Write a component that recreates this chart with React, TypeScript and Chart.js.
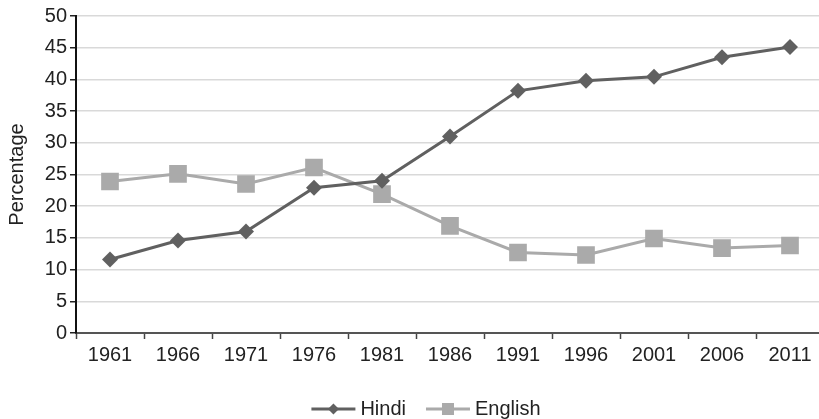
import { useEffect, useRef } from 'react';
import { Chart, registerables } from 'chart.js';

Chart.register(...registerables);

const years = ['1961', '1966', '1971', '1976', '1981', '1986', '1991', '1996', '2001', '2006', '2011'];
const hindiValues = [11.6, 14.6, 16.0, 22.9, 24.0, 31.0, 38.2, 39.8, 40.4, 43.5, 45.1];
const englishValues = [23.9, 25.1, 23.5, 26.1, 21.9, 16.9, 12.7, 12.3, 14.9, 13.4, 13.8];
const yAxisTitle = 'Percentage';

const FONT = '"Liberation Sans", Arial, Helvetica, sans-serif';
const HINDI_COLOR = '#606060';
const ENGLISH_COLOR = '#aaaaaa';
const TEXT_COLOR = '#222222';

const lineLegend = {
  id: 'lineLegend',
  afterDraw(chart: any) {
    const ctx = chart.ctx as CanvasRenderingContext2D;
    ctx.save();
    ctx.font = `20px ${FONT}`;
    const lineLen = 44;
    const gap = 5;
    const itemGap = 20;
    const items = chart.data.datasets.map((ds: any) => ({
      ds,
      w: lineLen + gap + ctx.measureText(ds.label).width,
    }));
    const total = items.reduce((a: number, b: any) => a + b.w, 0) + itemGap * (items.length - 1);
    let x = 426 - total / 2;
    const y = 409;
    items.forEach(({ ds, w }: any) => {
      ctx.strokeStyle = ds.borderColor;
      ctx.lineWidth = 3;
      ctx.beginPath();
      ctx.moveTo(x, y);
      ctx.lineTo(x + lineLen, y);
      ctx.stroke();
      ctx.fillStyle = ds.pointBackgroundColor;
      const cx = x + lineLen / 2;
      if (ds.pointStyle === 'rectRot') {
        const r = 5.5;
        ctx.beginPath();
        ctx.moveTo(cx, y - r);
        ctx.lineTo(cx + r, y);
        ctx.lineTo(cx, y + r);
        ctx.lineTo(cx - r, y);
        ctx.closePath();
        ctx.fill();
      } else {
        const s = 6;
        ctx.fillRect(cx - s, y - s, 2 * s, 2 * s);
      }
      ctx.fillStyle = TEXT_COLOR;
      ctx.textBaseline = 'middle';
      ctx.textAlign = 'left';
      ctx.fillText(ds.label, x + lineLen + gap, y);
      x += w + itemGap;
    });
    ctx.restore();
  },
};

export default function App() {
  const canvasRef = useRef<HTMLCanvasElement | null>(null);

  useEffect(() => {
    const canvas = canvasRef.current;
    if (!canvas) return;
    const chart = new Chart(canvas, {
      type: 'line',
      data: {
        labels: years,
        datasets: [
          {
            label: 'Hindi',
            data: hindiValues,
            borderColor: HINDI_COLOR,
            backgroundColor: HINDI_COLOR,
            borderWidth: 3,
            pointStyle: 'rectRot',
            pointRadius: 8,
            pointBackgroundColor: HINDI_COLOR,
            pointBorderWidth: 0,
            tension: 0,
          },
          {
            label: 'English',
            data: englishValues,
            borderColor: ENGLISH_COLOR,
            backgroundColor: ENGLISH_COLOR,
            borderWidth: 3,
            pointStyle: 'rect',
            pointRadius: 12.5,
            pointBackgroundColor: ENGLISH_COLOR,
            pointBorderWidth: 0,
            tension: 0,
          },
        ],
      },
      options: {
        responsive: false,
        animation: false,
        devicePixelRatio: 1,
        layout: { padding: { top: 16, right: 16, bottom: 51, left: 0 } },
        plugins: {
          legend: { display: false },
          tooltip: { enabled: false },
        },
        scales: {
          x: {
            type: 'category',
            offset: true,
            grid: {
              offset: true,
              drawOnChartArea: false,
              drawTicks: true,
              tickLength: 6,
              tickColor: '#444444',
              tickWidth: 1.5,
            },
            border: { color: '#555555', width: 2 },
            ticks: {
              font: { size: 20, family: FONT },
              color: TEXT_COLOR,
              padding: 4,
              maxRotation: 0,
              autoSkip: false,
            },
            afterFit: (s: any) => {
              s.height = 35;
            },
          },
          y: {
            min: 0,
            max: 50,
            ticks: {
              stepSize: 5,
              font: { size: 20, family: FONT },
              color: TEXT_COLOR,
              padding: 3,
            },
            grid: {
              color: '#d9d9d9',
              lineWidth: 1.5,
              tickColor: '#222222',
              tickWidth: 1.5,
              tickLength: 6,
            },
            border: { color: '#111111', width: 2 },
            title: {
              display: true,
              text: yAxisTitle,
              font: { size: 20, family: FONT },
              color: TEXT_COLOR,
              padding: { top: 5, bottom: 0 },
            },
            afterFit: (s: any) => {
              s.width = 76;
            },
          },
        },
      },
      plugins: [lineLegend],
    });
    return () => chart.destroy();
  }, []);

  return (
    <div style={{ position: 'absolute', left: 0, top: 0, width: 819, height: 419, overflow: 'hidden', background: '#fff' }}>
      <canvas ref={canvasRef} width={840} height={419} style={{ display: 'block' }} />
    </div>
  );
}
